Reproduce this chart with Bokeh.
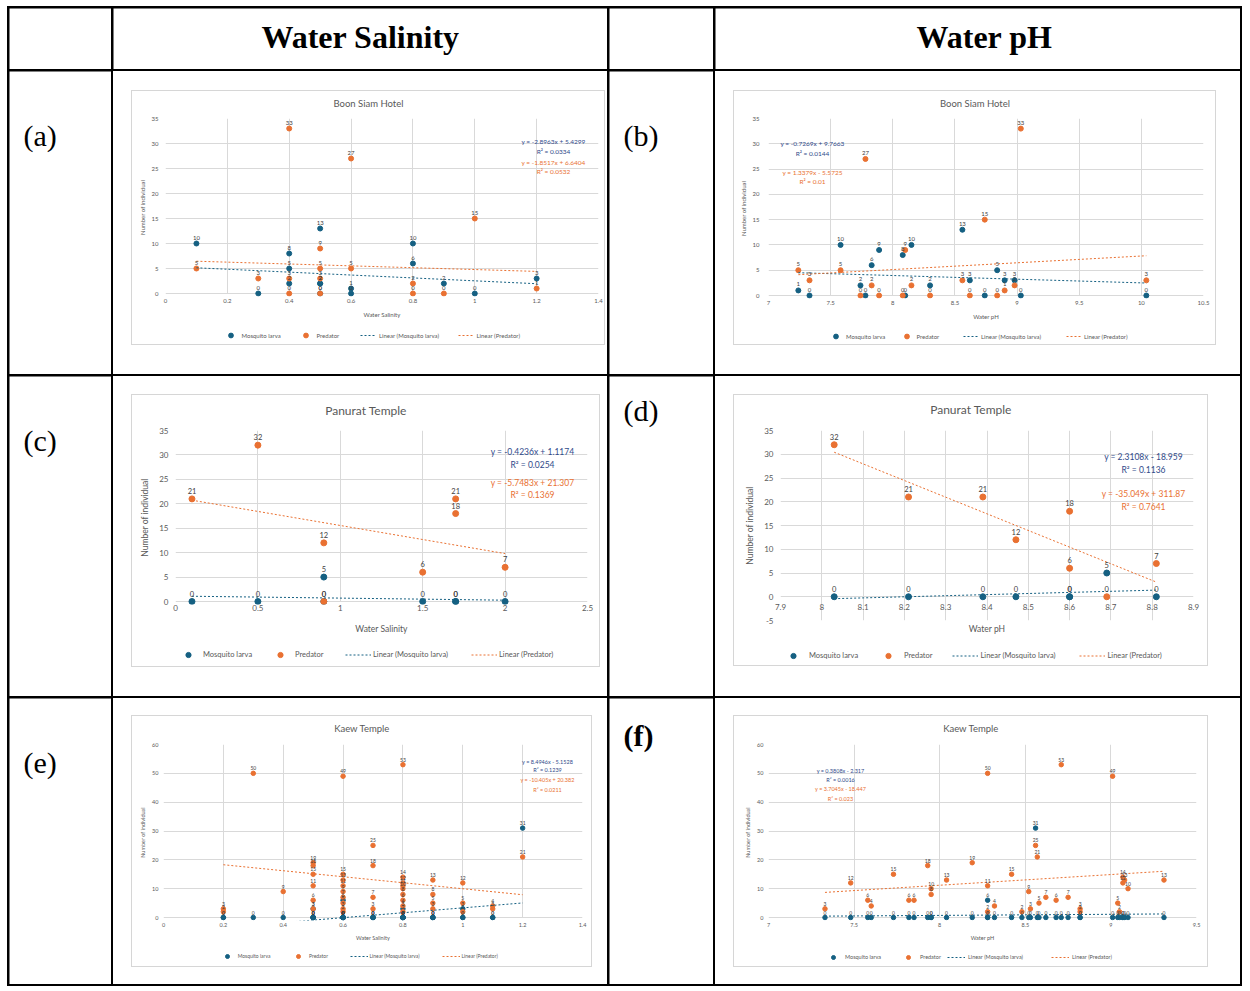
from bokeh.plotting import figure
from bokeh.models import (ColumnDataSource, LabelSet, Label, Legend, LegendItem,
                          FixedTicker, Range1d, Spacer, GridBox, CustomJSTickFormatter)
from bokeh.layouts import column, row
from bokeh.core.properties import value
from bokeh.embed import file_html
from bokeh.resources import INLINE

# ---------------- data ----------------
# (a) Boon Siam Hotel - water salinity
sal_a = [0.1, 0.3, 0.4, 0.4, 0.4, 0.5, 0.5, 0.5, 0.5, 0.6, 0.6, 0.8, 0.8, 0.9, 1.0, 1.2]
larva_a = [10, 0, 8, 5, 2, 13, 2, 2, 0, 1, 0, 10, 6, 2, 0, 3]
pred_a = [5, 3, 33, 3, 0, 9, 5, 3, 0, 27, 5, 2, 0, 0, 15, 1]
trend_a = [(-2.8963, 5.4299, "0.0334"), (-1.8517, 6.6404, "0.0532")]

# (b) Boon Siam Hotel - water pH
ph_b = [7.24, 7.33, 7.58, 7.74, 7.78, 7.83, 7.89, 8.08, 8.10, 8.15, 8.30, 8.56, 8.62,
        8.74, 8.84, 8.90, 8.98, 9.03, 10.04]
larva_b = [1, 0, 10, 2, 0, 6, 9, 8, 0, 10, 2, 13, 3, 0, 5, 3, 3, 0, 0]
pred_b = [5, 3, 5, 0, 27, 2, 0, 0, 9, 2, 0, 3, 0, 15, 0, 1, 2, 33, 3]
trend_b = [(-0.7269, 9.7663, "0.0144"), (1.3379, -5.5725, "0.01")]

# (c) Panurat Temple - water salinity
sal_c = [0.1, 0.5, 0.9, 0.9, 1.5, 1.7, 1.7, 2.0]
larva_c = [0, 0, 5, 0, 0, 0, 0, 0]
pred_c = [21, 32, 12, 0, 6, 21, 18, 7]
trend_c = [(-0.4236, 1.1174, "0.0254"), (-5.7483, 21.307, "0.1369")]

# (d) Panurat Temple - water pH
ph_d = [8.03, 8.21, 8.39, 8.47, 8.60, 8.60, 8.69, 8.81]
larva_d = [0, 0, 0, 0, 0, 0, 5, 0]
pred_d = [32, 21, 21, 12, 18, 6, 0, 7]
trend_d = [(2.3108, -18.959, "0.1136"), (-35.049, 311.87, "0.7641")]

# (e) Kaew Temple - water salinity
sal_e = [0.2, 0.2, 0.3, 0.4,
         0.5, 0.5, 0.5, 0.5, 0.5, 0.5,
         0.6, 0.6, 0.6, 0.6, 0.6, 0.6, 0.6, 0.6, 0.6,
         0.7, 0.7, 0.7, 0.7,
         0.8, 0.8, 0.8, 0.8, 0.8, 0.8, 0.8, 0.8, 0.8,
         0.9, 0.9, 0.9, 0.9,
         1.0, 1.0, 1.0,
         1.1, 1.1, 1.2]
larva_e = [0, 0, 0, 0,
           0, 0, 0, 0, 3, 0,
           0, 0, 0, 6, 0, 0, 0, 0, 0,
           0, 0, 0, 0,
           0, 0, 0, 0, 0, 0, 3, 0, 0,
           0, 0, 0, 0,
           0, 3, 0,
           0, 0, 31]
pred_e = [3, 2, 50, 9,
          19, 18, 15, 11, 6, 3,
          49, 15, 13, 11, 9, 7, 5, 3, 2,
          25, 18, 7, 3,
          53, 14, 12, 11, 10, 8, 6, 4, 2,
          13, 8, 5, 3,
          12, 5, 2,
          4, 3, 21]
trend_e = [(8.4946, -5.1528, "0.1239"), (-10.405, 20.382, "0.0211")]

# (f) Kaew Temple - water pH
ph_f = [7.33, 7.48, 7.58, 7.60, 7.73, 7.82, 7.85, 7.93, 7.95, 7.95,
        8.04, 8.19, 8.28, 8.28, 8.28, 8.32, 8.42, 8.48, 8.52, 8.53,
        8.56, 8.57, 8.58, 8.62, 8.68, 8.71, 8.75, 8.82, 8.82, 9.01,
        9.04, 9.05, 9.07, 9.07, 9.08, 9.10, 9.31]
larva_f = [0, 0, 0, 0, 0, 0, 0, 0, 0, 0,
           0, 0, 0, 6, 0, 0, 0, 0, 0, 0,
           31, 0, 0, 0, 0, 0, 0, 0, 0, 0,
           0, 0, 0, 0, 0, 0, 0]
pred_f = [3, 12, 6, 4, 15, 6, 6, 18, 10, 8,
          13, 19, 50, 11, 2, 4, 15, 2, 9, 3,
          25, 21, 5, 7, 6, 53, 7, 2, 3, 49,
          5, 2, 14, 12, 13, 10, 13]
trend_f = [(0.3808, -2.317, "0.0016"), (3.7045, -18.447, "0.023")]

# axis ticks
ticks_sal_a = [0, 0.2, 0.4, 0.6, 0.8, 1.0, 1.2, 1.4]
ticks_ph_b = [7, 7.5, 8, 8.5, 9, 9.5, 10, 10.5]
ticks_sal_c = [0, 0.5, 1, 1.5, 2, 2.5]
ticks_ph_d = [7.9, 8.0, 8.1, 8.2, 8.3, 8.4, 8.5, 8.6, 8.7, 8.8, 8.9]
ticks_sal_e = [0, 0.2, 0.4, 0.6, 0.8, 1.0, 1.2, 1.4]
ticks_ph_f = [7, 7.5, 8, 8.5, 9, 9.5]
yticks_35 = [0, 5, 10, 15, 20, 25, 30, 35]
yticks_d = [-5, 0, 5, 10, 15, 20, 25, 30, 35]
yticks_60 = [0, 10, 20, 30, 40, 50, 60]

legend_labels = ["Mosquito larva", "Predator", "Linear (Mosquito larva)", "Linear (Predator)"]

# ---------------- style ----------------
FONT = "Lato"
SERIF = "Liberation Serif"
BLUE = "#156082"
ORANGE = "#E97132"
EQ_BLUE = "#2F4A8A"
GRID = "#D9D9D9"
TXT = "#595959"
LBL = "#404040"

# table geometry (page coordinates of cells)
CW = [102, 494, 104, 525]
RH = [61, 303, 320, 286]
COLX = [9, 113, 609, 715]
ROWY = [8, 71, 376, 698]


def eq_text(m, b):
    return "y = %sx %s %s" % (m, "+" if b >= 0 else "-", abs(b))


def strip_fig(w, h, xr, yr):
    p = figure(width=w, height=h, x_range=xr, y_range=yr,
               output_backend="svg", toolbar_location=None, min_border=0,
               x_axis_type=None, y_axis_type=None, outline_line_color=None,
               background_fill_color="white", border_fill_color="white")
    p.grid.visible = False
    p.title.standoff = 0
    return p


def build_chart(c):
    L, T, R, B = c["box"]
    fl, ft, fr, fb = c["frame"]
    x0, x1 = c["xr"]
    y0, y1 = c["yr"]
    W = R - L - 2
    H = B - T - 2
    ix, iy = L + 1, T + 1            # inner origin (inside the 1px chart border)
    ht = c["ht"]
    ls_top = c["ls_top"]
    hl = (B - 1) - ls_top
    hm = H - ht - hl
    # a little room below y=0 so markers sitting on the axis are not cut in half
    ext = c.get("ext", 0)
    ppu = (fb - ft) / float(y1 - y0)
    y0n = y0 - ext / ppu
    mbl = int(round(fl - ix))
    mbr = int(round((R - 1) - fr))
    mbt = int(round(ft - (iy + ht)))
    mbb = int(round(ls_top - (fb + ext)))
    fl2, fr2 = ix + mbl, (R - 1) - mbr
    ft2, fb2 = iy + ht + mbt, ls_top - mbb

    # ---- title strip (its frame is aligned with the plot frame by the column layout)
    ts = strip_fig(W, ht, Range1d(fl2, fr2), Range1d(iy + ht, iy))
    tcx, tcy = c["title_pos"]
    ts.add_layout(Label(x=tcx, y=tcy, text=c["title"], text_align="center",
                        text_baseline="middle", text_font=FONT,
                        text_font_size=c["title_fs"], text_color=TXT))

    # ---- main plot area
    p = figure(width=W, height=hm, x_range=Range1d(x0, x1), y_range=Range1d(y0n, y1),
               output_backend="svg", toolbar_location=None,
               min_border_left=mbl, min_border_right=mbr,
               min_border_top=mbt, min_border_bottom=mbb,
               background_fill_color="white", border_fill_color="white",
               outline_line_color=None)
    p.title.standoff = 0

    def xd(px):
        return x0 + (px - fl2) / (fr2 - fl2) * (x1 - x0)

    def yd(py):
        return y0n + (fb2 - py) / (fb2 - ft2) * (y1 - y0n)

    fmt = CustomJSTickFormatter(code="return String(Math.round(tick * 10) / 10);")
    xa = p.xaxis[0]
    ya = p.yaxis[0]
    for ax in (xa, ya):
        ax.axis_line_color = None
        ax.major_tick_line_color = None
        ax.minor_tick_line_color = None
        ax.major_tick_out = 0
        ax.major_tick_in = 0
        ax.minor_tick_out = 0
        ax.minor_tick_in = 0
        ax.major_label_text_font = FONT
        ax.major_label_text_color = TXT
        ax.major_label_text_font_size = c["tick_fs"]
        ax.axis_label_text_font = FONT
        ax.axis_label_text_color = TXT
        ax.axis_label_text_font_size = c["ax_fs"]
        ax.axis_label_text_font_style = "normal"
        ax.formatter = fmt
    xa.ticker = FixedTicker(ticks=c["xticks"])
    ya.ticker = FixedTicker(ticks=c["yticks"])
    xa.axis_label = c["xtitle"]
    ya.axis_label = "Number of individual"
    xa.major_label_standoff = c["xs"][0] - ext
    xa.axis_label_standoff = c["xs"][1]
    ya.major_label_standoff = c["ys"][0]
    ya.axis_label_standoff = c["ys"][1]
    p.xgrid.grid_line_color = GRID
    p.ygrid.grid_line_color = GRID
    if ext:
        try:
            p.xgrid.cross_bounds = (y0, y1)
        except Exception:
            pass

    x = c["x"]
    sources = []
    for vals, col in [(c["larva"], BLUE), (c["pred"], ORANGE)]:
        src = ColumnDataSource(dict(x=x, y=vals, t=[str(v) for v in vals]))
        sources.append(src)
        p.scatter("x", "y", source=src, size=c["ms"], color=col, marker="circle")
        p.add_layout(LabelSet(x="x", y="y", text="t", source=src, y_offset=c["lo"],
                              text_align="center", text_baseline="bottom",
                              text_font=value(FONT), text_font_size=c["lbl_fs"],
                              text_color=LBL))
    trend_src = []
    for (m, b, r2), col in zip(c["trend"], [BLUE, ORANGE]):
        xs = [min(x), max(x)]
        tsrc = ColumnDataSource(dict(x=xs, y=[m * v + b for v in xs]))
        trend_src.append(tsrc)
        p.line("x", "y", source=tsrc, line_color=col, line_width=1, line_dash="2 2")

    ex = c["eq_x"]
    for (m, b, r2), col, (ya_, yb_) in zip(c["trend"], [EQ_BLUE, ORANGE], c["eq_y"]):
        for t, py in [(eq_text(m, b), ya_), ("R\u00b2 = " + r2, yb_)]:
            p.add_layout(Label(x=xd(ex), y=yd(py), text=t, text_align="center",
                               text_baseline="middle", text_font=FONT,
                               text_font_size=c["eq_fs"], text_color=col))

    # ---- legend strip: proxy renderers share the chart's sources but lie outside
    # this strip's (arbitrary) ranges, so only their legend swatches are drawn
    ls = strip_fig(W, hl, Range1d(1000, 1001), Range1d(1000, 1001))
    gw, gh = c["glyph"]
    r_m = ls.scatter("x", "y", source=sources[0], size=c["ms"], color=BLUE, marker="circle")
    r_p = ls.scatter("x", "y", source=sources[1], size=c["ms"], color=ORANGE, marker="circle")
    l_m = ls.line("x", "y", source=trend_src[0], line_color=BLUE, line_width=1, line_dash="2 2")
    l_p = ls.line("x", "y", source=trend_src[1], line_color=ORANGE, line_width=1, line_dash="2 2")
    ly = (B - 1) - (c["leg_y"] + gh / 2.0)
    for lab, rend, lx in zip(legend_labels, [r_m, r_p, l_m, l_p], c["leg_x"]):
        lg = Legend(items=[LegendItem(label=lab, renderers=[rend])],
                    location=(lx - fl2, ly), orientation="horizontal",
                    glyph_width=gw, glyph_height=gh, label_height=gh,
                    label_standoff=c["leg_so"], padding=0, margin=0, spacing=0,
                    border_line_color=None, background_fill_alpha=0,
                    label_text_font=FONT, label_text_font_size=c["leg_fs"],
                    label_text_color=TXT)
        ls.add_layout(lg)

    return column(ts, p, ls, styles={"border": "1px solid #D6D6D6"})


def wrap(chart, c, rc):
    r, k = rc
    cx, cy, cw, ch = COLX[k], ROWY[r], CW[k], RH[r]
    L, T, R, B = c["box"]
    left, top = L - cx, T - cy
    fw, fh = R - L, B - T
    mid = [Spacer(width=left, height=fh), chart]
    if cw - left - fw > 0:
        mid.append(Spacer(width=cw - left - fw, height=fh))
    kids = [Spacer(width=cw, height=top), row(*mid)]
    if ch - top - fh > 0:
        kids.append(Spacer(width=cw, height=ch - top - fh))
    return column(*kids, styles={"background-color": "white"})


def text_cell(w, h, texts):
    p = strip_fig(w, h, Range1d(0, w), Range1d(h, 0))
    for (tx, ty, t, fs, st, al) in texts:
        p.add_layout(Label(x=tx, y=ty, text=t, text_font=SERIF, text_font_size=fs,
                           text_font_style=st, text_align=al, text_baseline="middle",
                           text_color="black"))
    return p


charts = {
    "a": dict(box=(131, 90, 605, 345), frame=(165, 118, 598, 293), xr=(0, 1.4), yr=(0, 35),
              xticks=ticks_sal_a, yticks=yticks_35, xtitle="Water Salinity",
              title="Boon Siam Hotel", x=sal_a, larva=larva_a, pred=pred_a, trend=trend_a,
              tick_fs="6px", ax_fs="6px", lbl_fs="6px", eq_fs="6.5px", title_fs="9.5px",
              leg_fs="6px", ms=5, lo=4, xs=(5, 5), ys=(7, 3), ht=18, ls_top=323, ext=3,
              eq_x=553, eq_y=[(141, 151), (162, 171)], title_pos=(368, 103),
              glyph=(15, 12), leg_so=4, leg_y=335, leg_x=[222.5, 297.5, 360, 457.5]),
    "b": dict(box=(733, 90, 1216, 345), frame=(768, 118, 1203, 295), xr=(7, 10.5), yr=(0, 35),
              xticks=ticks_ph_b, yticks=yticks_35, xtitle="Water pH",
              title="Boon Siam Hotel", x=ph_b, larva=larva_b, pred=pred_b, trend=trend_b,
              tick_fs="6px", ax_fs="6px", lbl_fs="6px", eq_fs="6.5px", title_fs="9.5px",
              leg_fs="6px", ms=5, lo=4, xs=(5, 5), ys=(9, 3), ht=18, ls_top=325, ext=3,
              eq_x=812, eq_y=[(143, 153), (172, 181)], title_pos=(974.5, 103),
              glyph=(15, 12), leg_so=3, leg_y=336, leg_x=[828, 898.5, 963, 1066]),
    "c": dict(box=(131, 394, 600, 667), frame=(175, 430, 587, 601), xr=(0, 2.5), yr=(0, 35),
              xticks=ticks_sal_c, yticks=yticks_35, xtitle="Water Salinity",
              title="Panurat Temple", x=sal_c, larva=larva_c, pred=pred_c, trend=trend_c,
              tick_fs="8px", ax_fs="8.5px", lbl_fs="7.5px", eq_fs="8.5px", title_fs="12px",
              leg_fs="7.5px", ms=6, lo=5, xs=(3, 10), ys=(7, 6), ht=24, ls_top=642, ext=3,
              eq_x=532, eq_y=[(451, 464), (482, 494)], title_pos=(365.5, 410),
              glyph=(26, 13), leg_so=2, leg_y=654, leg_x=[175, 267, 345, 471]),
    "d": dict(box=(733, 394, 1208, 666), frame=(780, 430, 1193, 620), xr=(7.9, 8.9), yr=(-5, 35),
              xticks=ticks_ph_d, yticks=yticks_d, xtitle="Water pH",
              title="Panurat Temple", x=ph_d, larva=larva_d, pred=pred_d, trend=trend_d,
              tick_fs="8px", ax_fs="8.5px", lbl_fs="7.5px", eq_fs="8.5px", title_fs="12px",
              leg_fs="7.5px", ms=6, lo=5, xs=(-17, 11), ys=(7, 6), ht=23, ls_top=642, ext=0,
              eq_x=1143, eq_y=[(456, 469), (493, 506)], title_pos=(970.5, 409),
              glyph=(26, 13), leg_so=3, leg_y=655, leg_x=[780, 875, 951.5, 1078.5]),
    "e": dict(box=(131, 715, 592, 967), frame=(163, 744, 582, 917), xr=(0, 1.4), yr=(0, 60),
              xticks=ticks_sal_e, yticks=yticks_60, xtitle="Water Salinity",
              title="Kaew Temple", x=sal_e, larva=larva_e, pred=pred_e, trend=trend_e,
              tick_fs="5.5px", ax_fs="5.5px", lbl_fs="5px", eq_fs="5.5px", title_fs="9.5px",
              leg_fs="5px", ms=4.5, lo=3, xs=(5, 5), ys=(5, 3), ht=19, ls_top=946, ext=3,
              eq_x=547, eq_y=[(761, 769), (779, 789)], title_pos=(361.5, 728),
              glyph=(18, 10), leg_so=2, leg_y=956, leg_x=[217.7, 289, 349.5, 441.5]),
    "f": dict(box=(733, 715, 1208, 967), frame=(768, 744, 1196, 917), xr=(7, 9.5), yr=(0, 60),
              xticks=ticks_ph_f, yticks=yticks_60, xtitle="Water pH",
              title="Kaew Temple", x=ph_f, larva=larva_f, pred=pred_f, trend=trend_f,
              tick_fs="5.5px", ax_fs="5.5px", lbl_fs="5px", eq_fs="5.5px", title_fs="9.5px",
              leg_fs="5.5px", ms=4.5, lo=3, xs=(5, 5), ys=(5, 3), ht=19, ls_top=947, ext=3,
              eq_x=840, eq_y=[(770, 779), (788, 798)], title_pos=(970.5, 728),
              glyph=(18, 10), leg_so=3, leg_y=957, leg_x=[824, 899, 947, 1051]),
}
places = {"a": (1, 1), "b": (1, 3), "c": (2, 1), "d": (2, 3), "e": (3, 1), "f": (3, 3)}

children = []
children.append((text_cell(CW[0], RH[0], []), 0, 0))
children.append((text_cell(CW[1], RH[0], [(247, 28, "Water Salinity", "32px", "bold", "center")]), 0, 1))
children.append((text_cell(CW[2], RH[0], []), 0, 2))
children.append((text_cell(CW[3], RH[0], [(269, 28, "Water pH", "32px", "bold", "center")]), 0, 3))

panel_labels = {(1, 0): ("(a)", 64, "normal"), (1, 2): ("(b)", 64, "normal"),
                (2, 0): ("(c)", 64, "normal"), (2, 2): ("(d)", 34, "normal"),
                (3, 0): ("(e)", 64, "normal"), (3, 2): ("(f)", 37, "bold")}
for (r, k), (t, ty, st) in panel_labels.items():
    children.append((text_cell(CW[k], RH[r], [(14, ty, t, "30px", st, "left")]), r, k))

for key, c in charts.items():
    ch = build_chart(c)
    r, k = places[key]
    children.append((wrap(ch, c, (r, k)), r, k))

grid = GridBox(children=children, spacing=2,
               styles={"background-color": "black", "padding": "2px",
                       "margin-left": "7px", "margin-top": "6px"})

open("out.html", "w").write(file_html(grid, INLINE))
